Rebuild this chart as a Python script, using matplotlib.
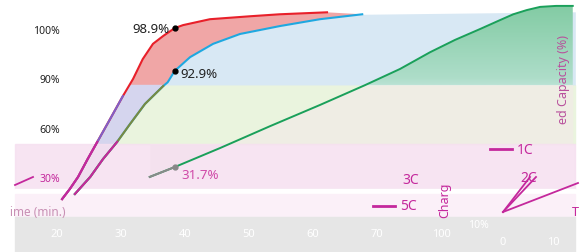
import numpy as np
import matplotlib
matplotlib.use("Agg")
import matplotlib.pyplot as plt
from matplotlib.lines import Line2D

plt.rcParams['font.family'] = ['Noto Sans', 'DejaVu Sans']

# dados (tempo em min., capacidade em %)
tempo_5c = [20.8, 22.0, 23.3, 24.8, 26.3, 28.3, 30.3, 31.9, 33.4, 35.0, 36.6, 38.4, 39.7, 43.9, 50.2, 54.8, 62.2]
cap_5c = [16.5, 22.6, 30.0, 40.9, 51.3, 65.2, 79.2, 89.7, 93.9, 97.0, 98.6, 100.2, 100.8, 102.0, 102.6, 103.0, 103.4]
tempo_3c = [22.8, 25.2, 27.2, 29.4, 31.4, 33.75, 36.6, 37.3, 38.4, 40.8, 44.4, 48.6, 54.8, 61.1, 67.7]
cap_3c = [19.6, 30.0, 40.9, 51.3, 62.1, 74.4, 85.3, 87.6, 91.5, 94.3, 97.0, 99.0, 100.6, 102.0, 103.0]
tempo_1c = [34.5, 38.4, 45.5, 53.3, 61.1, 68.1, 73.6, 78.3, 82.2, 86.1, 89.2, 91.3, 93.4, 95.5, 98.0, 100.6]
cap_1c = [30.0, 36.0, 47.6, 60.9, 73.8, 85.8, 91.9, 95.3, 97.8, 100.0, 101.8, 103.0, 103.85, 104.5, 104.7, 104.7]

marca_t = 38.4
marca_v = [100.2, 91.5, 36.0]
marca_txt = ['98.9%', '92.9%', '31.7%']

yticks = [30, 60, 90, 100]
ytick_labels = ['30%', '60%', '90%', '100%']
xticks = [20, 30, 40, 50, 60, 70, 80]
xtick_labels = ['20', '30', '40', '50', '60', '70', '100']

MAGENTA = '#c4289c'


# escala y quebrada: 30-60-90-100 igualmente espacados
def ida(v):
    v = np.asarray(v, dtype=float)
    return np.where(v < 30, (v - 30) / 30,
                    np.where(v > 100, 3 + (v - 100) / 10,
                             np.interp(v, [30, 60, 90, 100], [0, 1, 2, 3])))


def volta(i):
    i = np.asarray(i, dtype=float)
    return np.where(i < 0, 30 + 30 * i,
                    np.where(i > 3, 100 + 10 * (i - 3),
                             np.interp(i, [0, 1, 2, 3], [30, 60, 90, 100])))


fig = plt.figure(figsize=(5.83, 2.53), dpi=100)
ax = fig.add_axes([0, 0, 1, 1])
ax.set_yscale('function', functions=(ida, volta))
ax.set_xlim(11.1, 102.2)
ax.set_ylim(-15.7, 106.1)
for s in ax.spines.values():
    s.set_visible(False)

x0, x1 = ax.get_xlim()
corte = 86.0
base = 50
topo = 103.5

# faixas de fundo
ax.axhspan(base, corte, xmin=0.026, xmax=0.986, color='#eaf4de', zorder=1)
bt = np.append(tempo_3c, x1 - 1.2)
bv = np.append(cap_3c, topo)
ax.fill_between(bt, bv, corte, where=bv > corte, interpolate=True, color='#d8e8f4', zorder=1, lw=0)
g = np.array(cap_1c)
ax.fill_between(tempo_1c, np.minimum(g, corte), base, color='#efede4', zorder=2, lw=0)

# area verde com degrade
verde = ax.fill_between(tempo_1c, g, corte, where=g > corte, interpolate=True,
                        color='none', zorder=2, lw=0)
grad = np.linspace(0, 1, 100).reshape(-1, 1)
img = ax.imshow(grad, extent=[x0, x1, corte, topo + 1.5], origin='lower', aspect='auto',
                cmap=matplotlib.colors.LinearSegmentedColormap.from_list('g', ['#b9e2d3', '#82cba3']),
                zorder=2)
img.set_clip_path(verde.get_paths()[0], transform=ax.transData)
ax.set_xlim(x0, x1)
ax.set_ylim(-15.7, 106.1)

ax.fill_betweenx(cap_5c, x0, tempo_5c, color='white', zorder=2, lw=0)

# area entre 5C e 3C
poli = ax.fill(np.concatenate([tempo_5c, tempo_3c[::-1]]),
               np.concatenate([cap_5c, cap_3c[::-1]]),
               color='#f0a6a6', zorder=2, lw=0)[0]
lav = ax.axhspan(0, corte, color='#d5d5ee', zorder=2)
lav.set_clip_path(poli)

# faixa rosa e cinza de baixo
ax.axhspan(22.6, 50, xmin=0.026, xmax=0.986, color='#f6e0f0', alpha=0.85, zorder=3)
ax.axhspan(19.6, 22.6, xmin=0.026, xmax=0.986, color='white', zorder=3)
ax.axhspan(5.7, 19.6, xmin=0.026, xmax=0.986, color='#fbf0f8', zorder=3)
ax.axhspan(-15.7, 5.7, xmin=0.026, xmax=0.986, color='#e6e6e6', zorder=3)

# curvas
ax.plot(tempo_5c, cap_5c, color='#e8202a', lw=1.5, zorder=4)
ax.plot(tempo_3c, cap_3c, color='#1fa8e0', lw=1.5, zorder=4)
ax.plot(tempo_1c, cap_1c, color='#1aa05a', lw=1.4, zorder=4)
ax.plot(tempo_5c[:7], cap_5c[:7], color='#8060c8', lw=1.5, zorder=4)
ax.plot(tempo_3c[:7], cap_3c[:7], color='#7a8a40', lw=1.5, zorder=4)
ax.plot(tempo_5c[:5], cap_5c[:5], color=MAGENTA, lw=1.5, zorder=5)
ax.plot(tempo_3c[:4], cap_3c[:4], color=MAGENTA, lw=1.5, zorder=5)
ax.plot(tempo_1c[:2], cap_1c[:2], color='#8a8a8a', lw=1.4, zorder=5)

# marcadores
cores_marca = ['black', 'black', '#888888']
for v, c in zip(marca_v, cores_marca):
    ax.plot(marca_t, v, 'o', color=c, ms=3.5, zorder=6)
ax.annotate(marca_txt[0], (marca_t, marca_v[0]), xytext=(-4, 0), textcoords='offset points',
            ha='right', va='center', fontsize=9.5, color='#222222', zorder=7)
ax.annotate(marca_txt[1], (marca_t, marca_v[1]), xytext=(4, -2), textcoords='offset points',
            ha='left', va='center', fontsize=9.5, color='#222222', zorder=7)
ax.annotate(marca_txt[2], (marca_t, marca_v[2]), xytext=(5, -5), textcoords='offset points',
            ha='left', va='center', fontsize=9.5, color='#d04aa8', zorder=7)

# eixos
ax.set_yticks(yticks)
ax.set_yticklabels(ytick_labels)
ax.tick_params(axis='y', length=0, pad=-43, labelsize=7.5, labelcolor='#222222')
ax.get_yticklabels()[0].set_color(MAGENTA)
ax.set_xticks(xticks)
ax.set_xticklabels(xtick_labels)
ax.tick_params(axis='x', length=0, pad=-17, labelsize=8, labelcolor='white')
ax.xaxis.set_zorder(10)
ax.yaxis.set_zorder(10)

# fragmentos de legenda e rotulos
fig.text(10 / 583, 1 - 212 / 253, 'ime (min.)', fontsize=8.5, color='#c890b4', va='center')
fig.text(445 / 583, 1 - 200 / 253, 'Charg', fontsize=9, color=MAGENTA, rotation=90, ha='center', va='center')
fig.text(563 / 583, 1 - 80 / 253, 'ed Capacity (%)', fontsize=9, color='#b8509c', rotation=90,
         ha='center', va='center')
fig.text(478 / 583, 1 - 226 / 253, '10%', fontsize=7.5, color='white', ha='center', va='center')
fig.text(503 / 583, 1 - 243 / 253, '0', fontsize=8, color='white', ha='center', va='center')
fig.text(553 / 583, 1 - 243 / 253, '10', fontsize=8, color='white', ha='center', va='center')
fig.text(572 / 583, 1 - 212 / 253, 'T', fontsize=9, color=MAGENTA, ha='left', va='center')

legenda = [('1C', 490, 150), ('5C', 373, 207)]
for nome, px, py in legenda:
    fig.add_artist(Line2D([px / 583, (px + 22) / 583], [1 - py / 253] * 2, color=MAGENTA, lw=2))
    fig.text((px + 27) / 583, 1 - py / 253, nome, fontsize=10, color=MAGENTA, va='center')
fig.text(402 / 583, 1 - 180 / 253, '3C', fontsize=10, color=MAGENTA, va='center')
fig.text(520 / 583, 1 - 178 / 253, '2C', fontsize=10, color=MAGENTA, va='center')

# linhas soltas do inset
for (xa, ya), (xb, yb) in [((503, 213), (530, 178)), ((503, 213), (536, 178)),
                           ((503, 213), (578, 184)), ((15, 186), (33, 178))]:
    fig.add_artist(Line2D([xa / 583, xb / 583], [1 - ya / 253, 1 - yb / 253], color=MAGENTA, lw=1.3))

fig.savefig('out.png', dpi=100)
